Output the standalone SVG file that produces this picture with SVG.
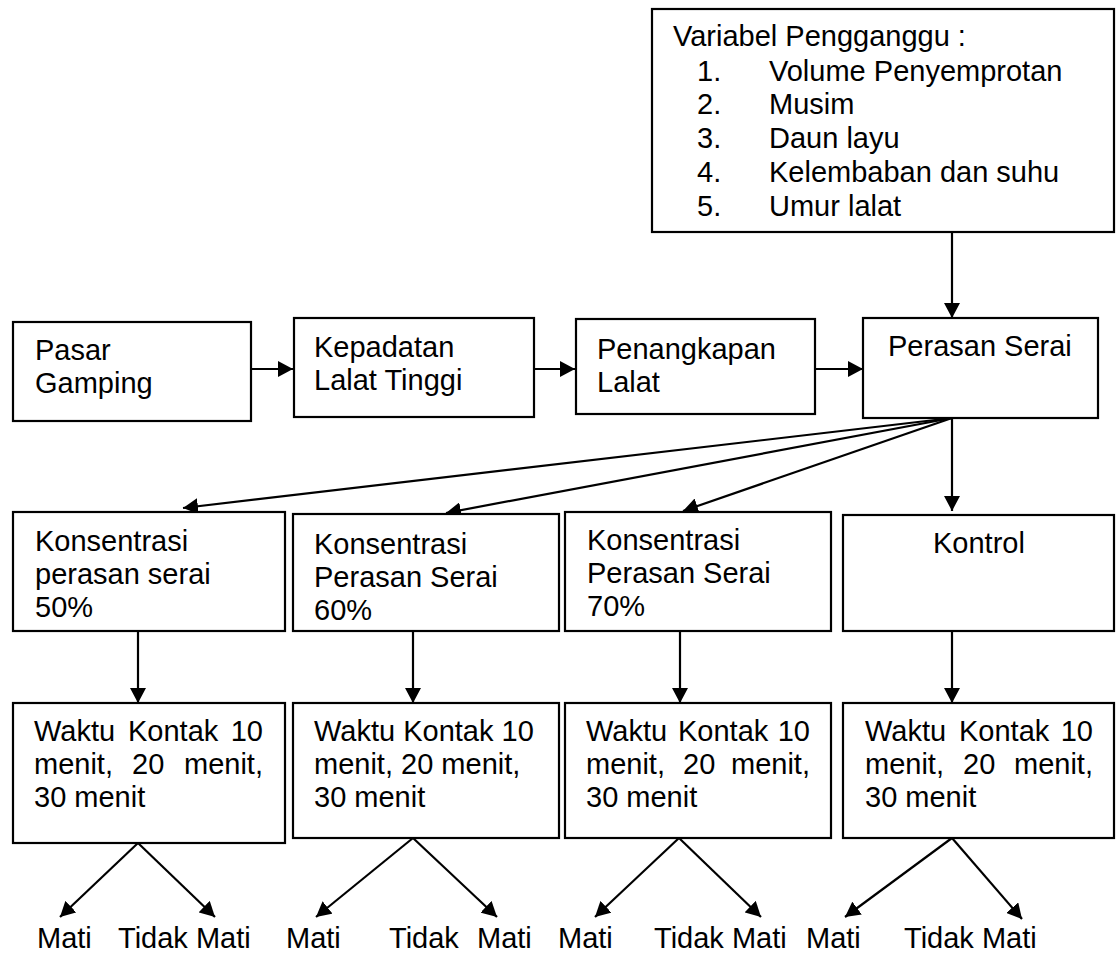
<svg xmlns="http://www.w3.org/2000/svg" width="1116" height="953" viewBox="0 0 1116 953">
<style>
  .box { fill: #ffffff; stroke: #000000; stroke-width: 2.2; }
  .t { font-family: "Liberation Sans", Arial, sans-serif; font-size: 29px; fill: #000000; }
  .c { fill: none; stroke: #000000; stroke-width: 2.2; }
</style>
<defs>
  <marker id="ah" viewBox="0 0 15 16" refX="15" refY="8" markerWidth="15" markerHeight="16" markerUnits="userSpaceOnUse" orient="auto">
    <path d="M0,0 L15,8 L0,16 z" fill="#000000"/>
  </marker>
</defs>
<rect width="1116" height="953" fill="#ffffff"/>

<g id="connectors">
  <line class="c" x1="952" y1="233" x2="952" y2="318" marker-end="url(#ah)"/>
  <line class="c" x1="251" y1="369" x2="293" y2="369" marker-end="url(#ah)"/>
  <line class="c" x1="534" y1="369" x2="575" y2="369" marker-end="url(#ah)"/>
  <line class="c" x1="815" y1="369" x2="863" y2="369" marker-end="url(#ah)"/>
  <line class="c" x1="952" y1="418" x2="183" y2="508" marker-end="url(#ah)"/>
  <line class="c" x1="952" y1="418" x2="446" y2="513" marker-end="url(#ah)"/>
  <line class="c" x1="952" y1="418" x2="683" y2="511" marker-end="url(#ah)"/>
  <line class="c" x1="952" y1="418" x2="952" y2="511" marker-end="url(#ah)"/>
  <line class="c" x1="138" y1="631" x2="138" y2="703" marker-end="url(#ah)"/>
  <line class="c" x1="413" y1="631" x2="413" y2="703" marker-end="url(#ah)"/>
  <line class="c" x1="680" y1="631" x2="680" y2="703" marker-end="url(#ah)"/>
  <line class="c" x1="952" y1="631" x2="952" y2="703" marker-end="url(#ah)"/>
  <line class="c" x1="138" y1="843" x2="60" y2="917" marker-end="url(#ah)"/>
  <line class="c" x1="138" y1="843" x2="215" y2="917" marker-end="url(#ah)"/>
  <line class="c" x1="413" y1="838" x2="316" y2="917" marker-end="url(#ah)"/>
  <line class="c" x1="413" y1="838" x2="497" y2="917" marker-end="url(#ah)"/>
  <line class="c" x1="679" y1="838" x2="595" y2="917" marker-end="url(#ah)"/>
  <line class="c" x1="679" y1="838" x2="761" y2="917" marker-end="url(#ah)"/>
  <line class="c" x1="952" y1="838" x2="845" y2="917" marker-end="url(#ah)"/>
  <line class="c" x1="952" y1="838" x2="1022" y2="919" marker-end="url(#ah)"/>
</g>

<g id="variabel-pengganggu">
  <rect class="box" x="652" y="9" width="462" height="223"/>
  <text class="t" x="673" y="46">Variabel Pengganggu :</text>
  <text class="t" x="697" y="81">1.</text><text class="t" x="769" y="81">Volume Penyemprotan</text>
  <text class="t" x="697" y="114">2.</text><text class="t" x="769" y="114">Musim</text>
  <text class="t" x="697" y="148">3.</text><text class="t" x="769" y="148">Daun layu</text>
  <text class="t" x="697" y="182">4.</text><text class="t" x="769" y="182">Kelembaban dan suhu</text>
  <text class="t" x="697" y="216">5.</text><text class="t" x="769" y="216">Umur lalat</text>
</g>

<g id="pasar-gamping">
  <rect class="box" x="13" y="322" width="238" height="99"/>
  <text class="t" x="35" y="360">Pasar</text>
  <text class="t" x="35" y="393">Gamping</text>
</g>
<g id="kepadatan">
  <rect class="box" x="294" y="318" width="240" height="99"/>
  <text class="t" x="314" y="357">Kepadatan</text>
  <text class="t" x="314" y="390">Lalat Tinggi</text>
</g>
<g id="penangkapan">
  <rect class="box" x="576" y="319" width="239" height="95"/>
  <text class="t" x="597" y="359">Penangkapan</text>
  <text class="t" x="597" y="392">Lalat</text>
</g>
<g id="perasan-serai">
  <rect class="box" x="863" y="318" width="235" height="100"/>
  <text class="t" x="888" y="356">Perasan Serai</text>
</g>

<g id="konsentrasi-50">
  <rect class="box" x="13" y="512" width="272" height="119"/>
  <text class="t" x="35" y="551">Konsentrasi</text>
  <text class="t" x="35" y="584">perasan serai</text>
  <text class="t" x="35" y="617">50%</text>
</g>
<g id="konsentrasi-60">
  <rect class="box" x="293" y="514" width="266" height="117"/>
  <text class="t" x="314" y="554">Konsentrasi</text>
  <text class="t" x="314" y="587">Perasan Serai</text>
  <text class="t" x="314" y="620">60%</text>
</g>
<g id="konsentrasi-70">
  <rect class="box" x="565" y="512" width="266" height="119"/>
  <text class="t" x="587" y="550">Konsentrasi</text>
  <text class="t" x="587" y="583">Perasan Serai</text>
  <text class="t" x="587" y="616">70%</text>
</g>
<g id="kontrol">
  <rect class="box" x="843" y="515" width="271" height="116"/>
  <text class="t" x="933" y="553">Kontrol</text>
</g>

<g id="waktu-50">
  <rect class="box" x="13" y="703" width="272" height="140"/>
  <text class="t" x="34" y="741">Waktu</text><text class="t" x="128" y="741">Kontak</text><text class="t" x="263" y="741" text-anchor="end">10</text>
  <text class="t" x="34" y="774">menit,</text><text class="t" x="132" y="774">20</text><text class="t" x="263" y="774" text-anchor="end">menit,</text>
  <text class="t" x="34" y="807">30 menit</text>
</g>
<g id="waktu-60">
  <rect class="box" x="293" y="703" width="266" height="135"/>
  <text class="t" x="314" y="741">Waktu Kontak 10</text>
  <text class="t" x="314" y="774">menit, 20 menit,</text>
  <text class="t" x="314" y="807">30 menit</text>
</g>
<g id="waktu-70">
  <rect class="box" x="565" y="703" width="266" height="135"/>
  <text class="t" x="586" y="741">Waktu</text><text class="t" x="678" y="741">Kontak</text><text class="t" x="810" y="741" text-anchor="end">10</text>
  <text class="t" x="586" y="774">menit,</text><text class="t" x="683" y="774">20</text><text class="t" x="810" y="774" text-anchor="end">menit,</text>
  <text class="t" x="586" y="807">30 menit</text>
</g>
<g id="waktu-kontrol">
  <rect class="box" x="843" y="703" width="271" height="135"/>
  <text class="t" x="865" y="741">Waktu</text><text class="t" x="959" y="741">Kontak</text><text class="t" x="1093" y="741" text-anchor="end">10</text>
  <text class="t" x="865" y="774">menit,</text><text class="t" x="963" y="774">20</text><text class="t" x="1093" y="774" text-anchor="end">menit,</text>
  <text class="t" x="865" y="807">30 menit</text>
</g>

<g id="hasil">
  <text class="t" x="37" y="948">Mati</text>
  <text class="t" x="118" y="948">Tidak Mati</text>
  <text class="t" x="286" y="948">Mati</text>
  <text class="t" x="389" y="948">Tidak</text><text class="t" x="477" y="948">Mati</text>
  <text class="t" x="558" y="948">Mati</text>
  <text class="t" x="654" y="948">Tidak Mati</text>
  <text class="t" x="806" y="948">Mati</text>
  <text class="t" x="904" y="948">Tidak Mati</text>
</g>
</svg>
